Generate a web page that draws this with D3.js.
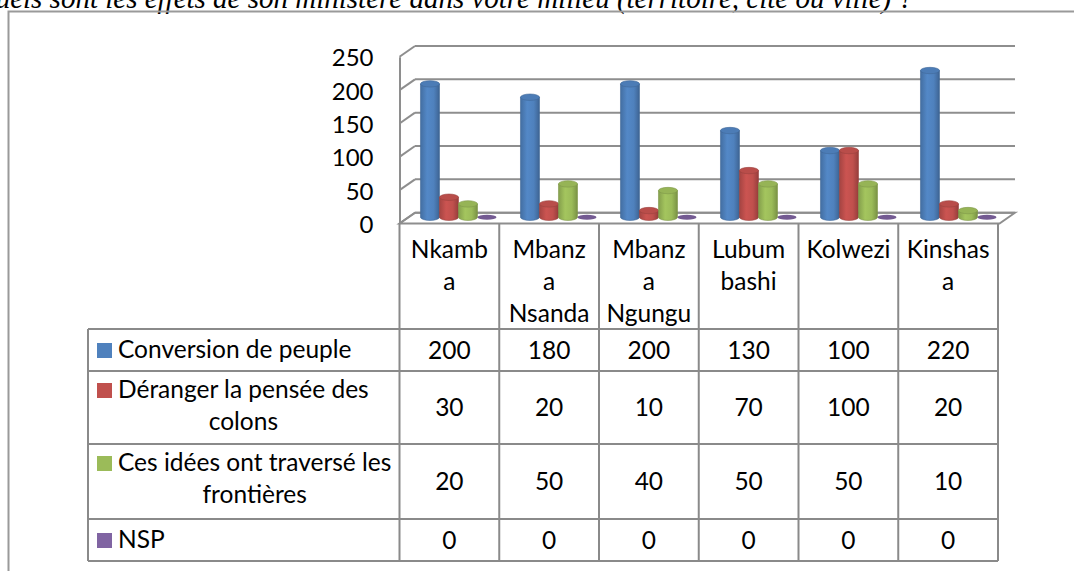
<!DOCTYPE html>
<html lang="fr">
<head>
	<meta charset="UTF-8">
	<title>effets du ministère</title>
	<style>
		* { margin: 0; padding: 0; }
		body { background: #fff; overflow: hidden; }
		svg { display: block; }
		text { font-family: Lato, "Open Sans", sans-serif; fill: #000; }
	</style>
</head>
<body>
	<script src="https://cdn.jsdelivr.net/npm/d3@7"></script>
	<script>
		// données
		var categories = ["Nkamba", "Mbanza Nsanda", "Mbanza Ngungu", "Lubumbashi", "Kolwezi", "Kinshasa"];
		var headerLines = [["Nkamb", "a"], ["Mbanz", "a", "Nsanda"], ["Mbanz", "a", "Ngungu"], ["Lubum", "bashi"], ["Kolwezi"], ["Kinshas", "a"]];
		var seriesNames = ["Conversion de peuple", "Déranger la pensée des colons", "Ces idées ont traversé les frontières", "NSP"];
		var seriesLines = [["Conversion de peuple"], ["Déranger la pensée des", "colons"], ["Ces idées ont traversé les", "frontières"], ["NSP"]];
		var conversion = [200, 180, 200, 130, 100, 220];
		var deranger = [30, 20, 10, 70, 100, 20];
		var idees = [20, 50, 40, 50, 50, 10];
		var nsp = [0, 0, 0, 0, 0, 0];
		var yTicks = [0, 50, 100, 150, 200, 250];
		var colors = ["#4F81BD", "#C0504D", "#9BBB59", "#8064A2"];
		var seriesValues = [conversion, deranger, idees, nsp];

		var W = 1074, H = 571;
		var fontSize = '24.5px';
		var svg = d3.select('body').append('svg').attr('width', W).attr('height', H);

		// titre coupé en haut
		svg.append('text')
			.attr('x', 913).attr('y', 8)
			.attr('text-anchor', 'end')
			.style('font-family', '"Liberation Serif", serif')
			.style('font-style', 'italic')
			.style('font-size', '29px')
			.text("Quels sont les effets de son ministère dans votre milieu (territoire, cité ou ville) ?");

		// cadre extérieur
		svg.append('path')
			.attr('d', 'M8.5,571 L8.5,11.5 L1074,11.5')
			.attr('fill', 'none').attr('stroke', '#9a9a9a').attr('stroke-width', 2);

		// plan du fond (3D)
		var depth = { dx: -15.5, dy: 10.8 };
		var x = d3.scaleBand().domain(categories).range([415, 1015]);
		var y = d3.scaleLinear().domain([0, 250]).range([212.7, 46]);
		var yFront = d3.scaleLinear().domain([0, 250]).range([212.7 + depth.dy, 46 + depth.dy]);
		var gridColor = '#8e8e8e';

		var chart = svg.append('g');

		// sol
		chart.append('path')
			.attr('d', 'M' + x.range()[0] + ',' + y(0) + ' L' + x.range()[1] + ',' + y(0) +
				' L' + (x.range()[1] + depth.dx) + ',' + yFront(0) + ' L' + (x.range()[0] + depth.dx) + ',' + yFront(0) + 'Z')
			.attr('fill', '#fff').attr('stroke', gridColor).attr('stroke-width', 2);

		// quadrillage du fond
		chart.selectAll('line.grid')
			.data(yTicks)
			.enter()
			.append('line')
			.classed('grid', true)
			.attr('x1', x.range()[0]).attr('x2', x.range()[1])
			.attr('y1', function (d) { return y(d); })
			.attr('y2', function (d) { return y(d); })
			.attr('stroke', gridColor).attr('stroke-width', 2);

		// paroi gauche
		chart.selectAll('line.side')
			.data(yTicks)
			.enter()
			.append('line')
			.classed('side', true)
			.attr('x1', x.range()[0] + depth.dx).attr('x2', x.range()[0])
			.attr('y1', function (d) { return yFront(d); })
			.attr('y2', function (d) { return y(d); })
			.attr('stroke', gridColor).attr('stroke-width', 2);

		// axe y
		var yAxis = chart.append('g')
			.attr('transform', 'translate(' + (x.range()[0] + depth.dx) + ',0)')
			.call(d3.axisLeft(yFront).tickValues(yTicks).tickSize(0).tickPadding(26));
		yAxis.select('.domain').attr('stroke', gridColor).attr('stroke-width', 2);
		yAxis.selectAll('text').style('font-family', 'Lato, sans-serif').style('font-size', '24px').attr('dy', '0.38em');

		// dégradés des cylindres
		var defs = svg.append('defs');
		colors.forEach(function (c, i) {
			var g = defs.append('linearGradient').attr('id', 'cyl' + i).attr('x1', '0%').attr('x2', '100%');
			var base = d3.color(c);
			g.append('stop').attr('offset', '0%').attr('stop-color', base.darker(0.45));
			g.append('stop').attr('offset', '35%').attr('stop-color', base.brighter(0.15));
			g.append('stop').attr('offset', '70%').attr('stop-color', base);
			g.append('stop').attr('offset', '100%').attr('stop-color', base.darker(0.7));
		});

		// barres cylindriques
		var barDepth = 0.42;
		var bx = depth.dx * barDepth, by = depth.dy * barDepth;
		var inner = d3.scaleBand().domain(d3.range(seriesNames.length)).range([12, 88]);
		var rx = inner.bandwidth() / 2, ry = 3.2;

		var cells = [];
		categories.forEach(function (c, ci) {
			seriesValues.forEach(function (vals, si) {
				cells.push({ c: c, s: si, v: vals[ci] });
			});
		});

		var bars = chart.selectAll('g.bar')
			.data(cells)
			.enter()
			.append('g')
			.classed('bar', true)
			.attr('transform', function (d) {
				return 'translate(' + (x(d.c) + bx + inner(d.s)) + ',' + by + ')';
			});

		bars.each(function (d) {
			var g = d3.select(this);
			var top = y(d.v), bottom = y(0);
			var col = d3.color(colors[d.s]);
			if (d.v > 0) {
				g.append('path')
					.attr('d', 'M0,' + top + ' L0,' + bottom +
						' A' + rx + ',' + ry + ' 0 0 0 ' + (2 * rx) + ',' + bottom +
						' L' + (2 * rx) + ',' + top + 'Z')
					.attr('fill', 'url(#cyl' + d.s + ')')
					.attr('stroke', col.darker(0.6)).attr('stroke-width', 0.6);
				g.append('ellipse')
					.attr('cx', rx).attr('cy', top).attr('rx', rx).attr('ry', ry)
					.attr('fill', col.darker(0.1))
					.attr('stroke', col.darker(0.6)).attr('stroke-width', 0.6);
			} else {
				g.append('ellipse')
					.attr('cx', rx).attr('cy', bottom).attr('rx', rx).attr('ry', 2.6)
					.attr('fill', col.darker(0.3));
			}
		});

		// tableau de données
		var xCol = d3.scaleBand().domain(categories).range([399.5, 998]);
		var rowEdges = [yFront(0), 329, 371, 444, 519, 561];
		var tableLeft = 88;
		var lineColor = '#8a8a8a';
		var table = svg.append('g');

		table.selectAll('line.hrow')
			.data(rowEdges.slice(1))
			.enter()
			.append('line')
			.attr('x1', tableLeft).attr('x2', xCol.range()[1])
			.attr('y1', function (d) { return d; })
			.attr('y2', function (d) { return d; })
			.attr('stroke', lineColor).attr('stroke-width', 2);

		var colEdges = categories.map(function (c) { return xCol(c); }).concat([xCol.range()[1]]);
		table.selectAll('line.vcol')
			.data(colEdges)
			.enter()
			.append('line')
			.attr('x1', function (d) { return d; })
			.attr('x2', function (d) { return d; })
			.attr('y1', rowEdges[0]).attr('y2', rowEdges[5])
			.attr('stroke', lineColor).attr('stroke-width', 2);

		table.append('line')
			.attr('x1', tableLeft).attr('x2', tableLeft)
			.attr('y1', rowEdges[1]).attr('y2', rowEdges[5])
			.attr('stroke', lineColor).attr('stroke-width', 2);

		// en-têtes des colonnes
		var lineH = 31.8;
		headerLines.forEach(function (lines, ci) {
			table.append('text')
				.attr('text-anchor', 'middle')
				.style('font-size', fontSize)
				.selectAll('tspan')
				.data(lines)
				.enter()
				.append('tspan')
				.attr('x', xCol(categories[ci]) + xCol.bandwidth() / 2)
				.attr('y', function (d, i) { return 258 + i * lineH; })
				.text(function (d) { return d; });
		});

		// libellés des séries avec la clé de légende
		var firstBase = [358, 398, 471, 548];
		seriesLines.forEach(function (lines, si) {
			table.append('rect')
				.attr('x', 97).attr('y', firstBase[si] - 15)
				.attr('width', 15).attr('height', 15)
				.attr('fill', colors[si]);
			var t1 = table.append('text')
				.attr('x', 118).attr('y', firstBase[si])
				.style('font-size', fontSize)
				.text(lines[0]);
			if (lines.length > 1) {
				var mid = 118 + t1.node().getComputedTextLength() / 2;
				table.append('text')
					.attr('x', mid).attr('y', firstBase[si] + lineH)
					.attr('text-anchor', 'middle')
					.style('font-size', fontSize)
					.text(lines[1]);
			}
		});

		// valeurs
		seriesValues.forEach(function (vals, si) {
			var cy = (rowEdges[si + 1] + rowEdges[si + 2]) / 2;
			table.selectAll(null)
				.data(vals)
				.enter()
				.append('text')
				.attr('x', function (d, i) { return xCol(categories[i]) + xCol.bandwidth() / 2; })
				.attr('y', cy + 8.5)
				.attr('text-anchor', 'middle')
				.style('font-size', fontSize)
				.text(function (d) { return d; });
		});
	</script>
</body>
</html>
